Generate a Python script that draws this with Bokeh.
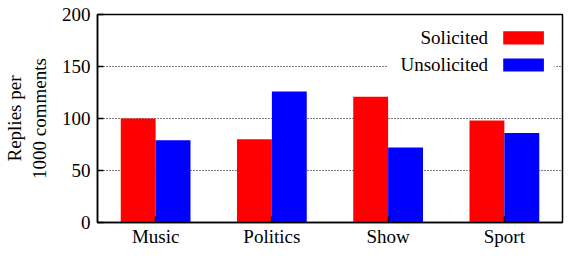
from bokeh.plotting import figure
from bokeh.models import (FixedTicker, Range1d, BoxAnnotation, Label, ColumnDataSource)
from bokeh.transform import dodge
from bokeh.embed import file_html
from bokeh.resources import INLINE

categories = ["Music", "Politics", "Show", "Sport"]
solicited = [100, 80, 121, 98]
unsolicited = [79, 126, 72, 86]
y_ticks = [0, 50, 100, 150, 200]
grid_ticks = [50, 100, 150]
legend_labels = ["Solicited", "Unsolicited"]
colors = ["#ff0000", "#0000ff"]

positions = list(range(1, len(categories) + 1))
FONT = "Liberation Serif"
FS = "19px"

source = ColumnDataSource(dict(x=positions, sol=solicited, uns=unsolicited))

p = figure(width=564, height=249, x_range=Range1d(0.5, 4.5), y_range=Range1d(0, 200),
           output_backend="svg", toolbar_location=None,
           min_border_left=96, min_border_right=2, min_border_top=14, min_border_bottom=0)

p.vbar(x=dodge("x", -0.15, range=p.x_range), top="sol", width=0.3, source=source,
       fill_color=colors[0], line_color=None)
p.vbar(x=dodge("x", 0.15, range=p.x_range), top="uns", width=0.3, source=source,
       fill_color=colors[1], line_color=None)

# axes
p.xaxis.ticker = FixedTicker(ticks=positions)
p.xaxis.major_label_overrides = {pos: cat for pos, cat in zip(positions, categories)}
p.yaxis.ticker = FixedTicker(ticks=y_ticks)
for ax in (p.xaxis[0], p.yaxis[0]):
    ax.major_label_text_font = FONT
    ax.major_label_text_font_size = FS
    ax.major_label_text_color = "black"
    ax.axis_line_color = "black"
    ax.axis_line_width = 1.5
    ax.major_tick_in = 6
    ax.major_tick_out = 0
    ax.major_tick_line_color = "black"
    ax.major_tick_line_width = 1.5
    ax.minor_tick_line_color = None
p.xaxis.major_label_standoff = 3
p.yaxis.major_label_standoff = 7

p.yaxis.axis_label = "Replies per\n1000 comments"
p.yaxis.axis_label_text_font = FONT
p.yaxis.axis_label_text_font_size = FS
p.yaxis.axis_label_text_font_style = "normal"
p.yaxis.axis_label_text_color = "black"
p.yaxis.axis_label_standoff = 9

p.xgrid.visible = False
p.ygrid.ticker = FixedTicker(ticks=grid_ticks)
p.ygrid.grid_line_color = "black"
p.ygrid.grid_line_dash = "1 2"
p.ygrid.grid_line_width = 1.2

p.outline_line_color = "black"
p.outline_line_width = 1.5
p.outline_line_alpha = 1

# legend (text on the left, swatch on the right)
p.add_layout(BoxAnnotation(left=3.0, right=4.43, top=192, bottom=137,
                           fill_color="white", fill_alpha=1, line_alpha=0))
legend_y = [177.5, 151.5]
for lab, col, ly in zip(legend_labels, colors, legend_y):
    p.add_layout(BoxAnnotation(left=3.99, right=4.34, bottom=ly - 6.3, top=ly + 6.3,
                               fill_color=col, fill_alpha=1, line_alpha=0))
    p.add_layout(Label(x=3.86, y=ly, text=lab, text_align="right", text_baseline="middle",
                       text_font=FONT, text_font_size=FS, text_color="black"))

open("out.html", "w").write(file_html(p, INLINE))
